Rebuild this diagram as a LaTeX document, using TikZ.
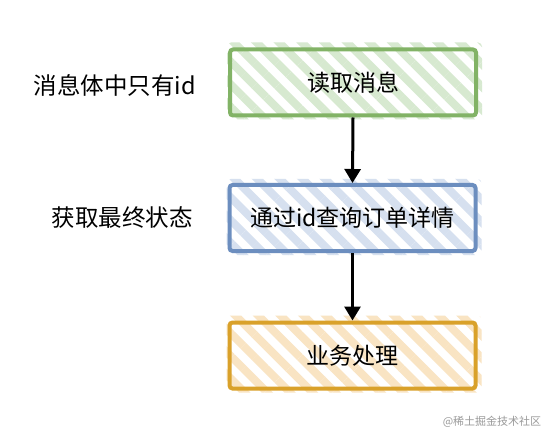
\documentclass[tikz,border=0pt]{standalone}
\usepackage{fontspec}
\newfontfamily\cjk{Noto Sans CJK SC}
\usetikzlibrary{arrows.meta,patterns.meta}
\pgfdeclarelayer{hatch}
\pgfsetlayers{hatch,main}
\definecolor{gstroke}{HTML}{82B366}
\definecolor{gfill}{HTML}{D7E9D0}
\definecolor{bstroke}{HTML}{6C8EBF}
\definecolor{bfill}{HTML}{D6E0EF}
\definecolor{ostroke}{HTML}{D9A12A}
\definecolor{ofill}{HTML}{F9E4C3}
\definecolor{wmark}{HTML}{9A9A9A}
\tikzset{
  stepbox/.style={draw=#1stroke, line width=4pt, rounded corners=3pt,
    minimum width=246pt, minimum height=66pt, inner sep=0pt,
    font=\cjk\fontsize{23}{27}\selectfont, text=black},
  hatchfill/.style={pattern={Lines[angle=-45,distance=16pt,line width=8pt]}, pattern color=#1fill},
  sidelabel/.style={font=\cjk\fontsize{23.5}{27}\selectfont, text=black, inner sep=0pt},
  flow/.style={line width=3pt, -{Triangle[length=14pt,width=16pt]}, black}
}
\begin{document}
\begin{tikzpicture}[x=1pt,y=1pt]
\useasboundingbox (0,0) rectangle (556,442);
\node[stepbox=g] (read) at (353,359.5) {读取消息};
\node[stepbox=b] (query) at (352.5,224) {通过id查询订单详情};
\node[stepbox=o] (biz) at (352.5,86.5) {业务处理};
\begin{pgfonlayer}{hatch}
\fill[white] (0,0) rectangle (556,442);
\fill[hatchfill=g, rounded corners=4pt] ([shift={(-1,-2)}]read.south west) rectangle ([shift={(4,5)}]read.north east);
\fill[hatchfill=b, rounded corners=4pt] ([shift={(-1,-2)}]query.south west) rectangle ([shift={(4,4)}]query.north east);
\fill[hatchfill=o, rounded corners=4pt] ([shift={(-1,-2)}]biz.south west) rectangle ([shift={(4,5)}]biz.north east);
\end{pgfonlayer}
\draw[flow] (read.south) -- (query.north);
\draw[flow] (query.south) -- (biz.north);
\node[sidelabel] (l1) at (115,357) {消息体中只有id};
\node[sidelabel] (l2) at (122,224) {获取最终状态};
\node[font=\cjk\fontsize{11}{13}\selectfont, text=wmark, inner sep=0pt] (wm) at (492,20) {@稀土掘金技术社区};
\end{tikzpicture}
\end{document}
